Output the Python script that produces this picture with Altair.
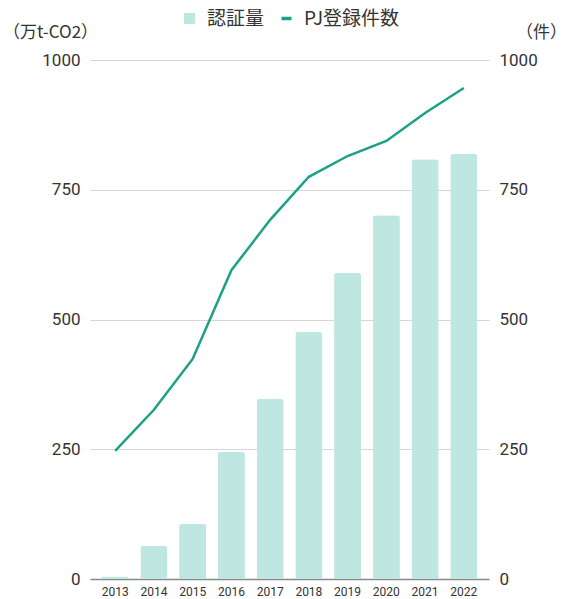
import altair as alt
import pandas as pd

years = ["2013", "2014", "2015", "2016", "2017", "2018", "2019", "2020", "2021", "2022"]
credits = [5, 64, 106, 245, 347, 476, 590, 701, 809, 819]
projects = [247, 326, 424, 595, 692, 775, 815, 844, 898, 946]

df = pd.DataFrame({"year": years, "credits": credits, "projects": projects,
                   "s1": "認証量", "s2": "PJ登録件数"})

FONT = "Noto Sans CJK JP"
NUM = "Roboto"
BAR = "#bfe7e1"
LINE = "#1ba286"
TXT = "#333333"

x = alt.X("year:N", title=None,
          scale=alt.Scale(paddingInner=0.3, paddingOuter=0.3),
          axis=alt.Axis(labelAngle=0, labelFontSize=12, labelColor=TXT,
                        labelFont=NUM, ticks=False, domainColor="#888888",
                        domainWidth=1.5, labelPadding=7, grid=False))

bars = alt.Chart(df).mark_bar(cornerRadiusTopLeft=3, cornerRadiusTopRight=3).encode(
    x=x,
    y=alt.Y("credits:Q", scale=alt.Scale(domain=[0, 1000]),
            axis=alt.Axis(values=[0, 250, 500, 750, 1000], format="d", title="（万t-CO2）",
                          titleAngle=0, titleX=-40, titleY=-28, titleAlign="center",
                          titleBaseline="middle", titleFontSize=17, titleFontWeight="normal",
                          titleColor=TXT, titleFont=FONT,
                          labelFontSize=17, labelColor=TXT, labelFont=NUM,
                          ticks=False, domain=False, labelPadding=10,
                          gridColor="#d6d6d6", gridWidth=1)),
    fill=alt.Fill("s1:N", scale=alt.Scale(domain=["認証量"], range=[BAR]),
                  legend=alt.Legend(title=None, orient="none", legendX=90, legendY=-51,
                                    symbolType="square", symbolSize=121, labelOffset=8,
                                    labelFontSize=19, labelFont=FONT, labelColor=TXT,
                                    symbolStrokeWidth=0)),
)

line = alt.Chart(df).mark_line(strokeWidth=2.5).encode(
    x=x,
    y=alt.Y("projects:Q", scale=alt.Scale(domain=[0, 1000]),
            axis=alt.Axis(orient="right", values=[0, 250, 500, 750, 1000], format="d", title="（件）",
                          titleAngle=0, titleX=52, titleY=-28, titleAlign="center",
                          titleBaseline="middle", titleFontSize=17, titleFontWeight="normal",
                          titleColor=TXT, titleFont=FONT,
                          labelFontSize=17, labelColor=TXT, labelFont=NUM,
                          ticks=False, domain=False, labelPadding=10, grid=False)),
    stroke=alt.Stroke("s2:N", scale=alt.Scale(domain=["PJ登録件数"], range=[LINE]),
                      legend=alt.Legend(title=None, orient="none", legendX=187, legendY=-51,
                                        symbolType="stroke", symbolSize=100, labelOffset=8,
                                        symbolStrokeWidth=3.5,
                                        labelFontSize=19, labelFont=FONT, labelColor=TXT)),
)

chart = alt.layer(bars, line).resolve_scale(y="independent", fill="independent", stroke="independent").properties(
    width=399, height=519,
    background="white",
    autosize=alt.AutoSizeParams(type="none"),
    padding={"left": 90, "top": 60, "right": 79, "bottom": 20},
).configure_view(stroke="transparent", strokeWidth=0)

chart.save("out.html", embed_options={"renderer": "svg", "actions": False})
